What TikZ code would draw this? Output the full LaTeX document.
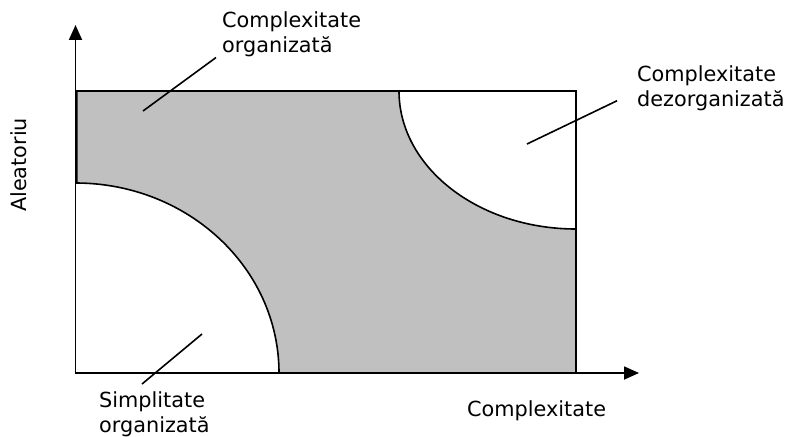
\documentclass[tikz,border=0pt]{standalone}
\usepackage{fontspec}
\setmainfont{DejaVu Sans}
\usetikzlibrary{arrows.meta,positioning}
\definecolor{zonegray}{RGB}{192,192,192}
\tikzset{
  axisline/.style={-{Triangle[length=15pt,width=13pt]}, line width=1.8pt},
  lbl/.style={inner sep=0pt, align=left, font=\fontsize{20.8}{25}\selectfont},
  leader/.style={line width=1.6pt},
  zoneline/.style={line width=1.6pt},
}

\begin{document}
\begin{tikzpicture}[x=1pt,y=-1pt]
  \useasboundingbox (0,0) rectangle (789,436);

  % Axes corners
  \coordinate (O) at (75.5,373);
  \coordinate (ytip) at (75.5,25);
  \coordinate (xtip) at (639,373);
  \coordinate (rectTR) at (576,91);

  % Gray zone between the two quarter ellipses
  \filldraw[fill=zonegray, zoneline] (76.8,91) -- (399,91)
    arc[start angle=180, end angle=90, x radius=177, y radius=138]
    -- (576,373) -- (279,373)
    arc[start angle=0, end angle=-90, x radius=203.5, y radius=190] -- (76.8,183) -- cycle;
  \draw[zoneline] (O) rectangle (rectTR);

  % Axes
  \draw[axisline] (O) -- (ytip);
  \draw[axisline] (O) -- (xtip);

  % Labels
  \node[lbl, anchor=north west] (lblOrg) at (222,11) {Complexitate\\organizată};
  \node[lbl, anchor=north west] (lblDez) at (637,65) {Complexitate\\dezorganizată};
  \node[lbl, anchor=north west] (lblSimp) at (99,391) {Simplitate\\organizată};
  \node[lbl, anchor=north west] (lblX) at (467,400) {Complexitate};
  \node[lbl, rotate=90] (lblY) at (19,165) {Aleatoriu};

  % Leader lines
  \coordinate (pOrg) at (143,111);
  \coordinate (pDez) at (527,144);
  \coordinate (pSimp) at (202,334);
  \draw[leader] ([xshift=-6pt,yshift=-1pt]lblOrg.south west) -- (pOrg);
  \draw[leader] ([xshift=-20pt,yshift=-13pt]lblDez.west) -- (pDez);
  \draw[leader] ([xshift=43pt,yshift=7pt]lblSimp.north west) -- (pSimp);
\end{tikzpicture}
\end{document}
